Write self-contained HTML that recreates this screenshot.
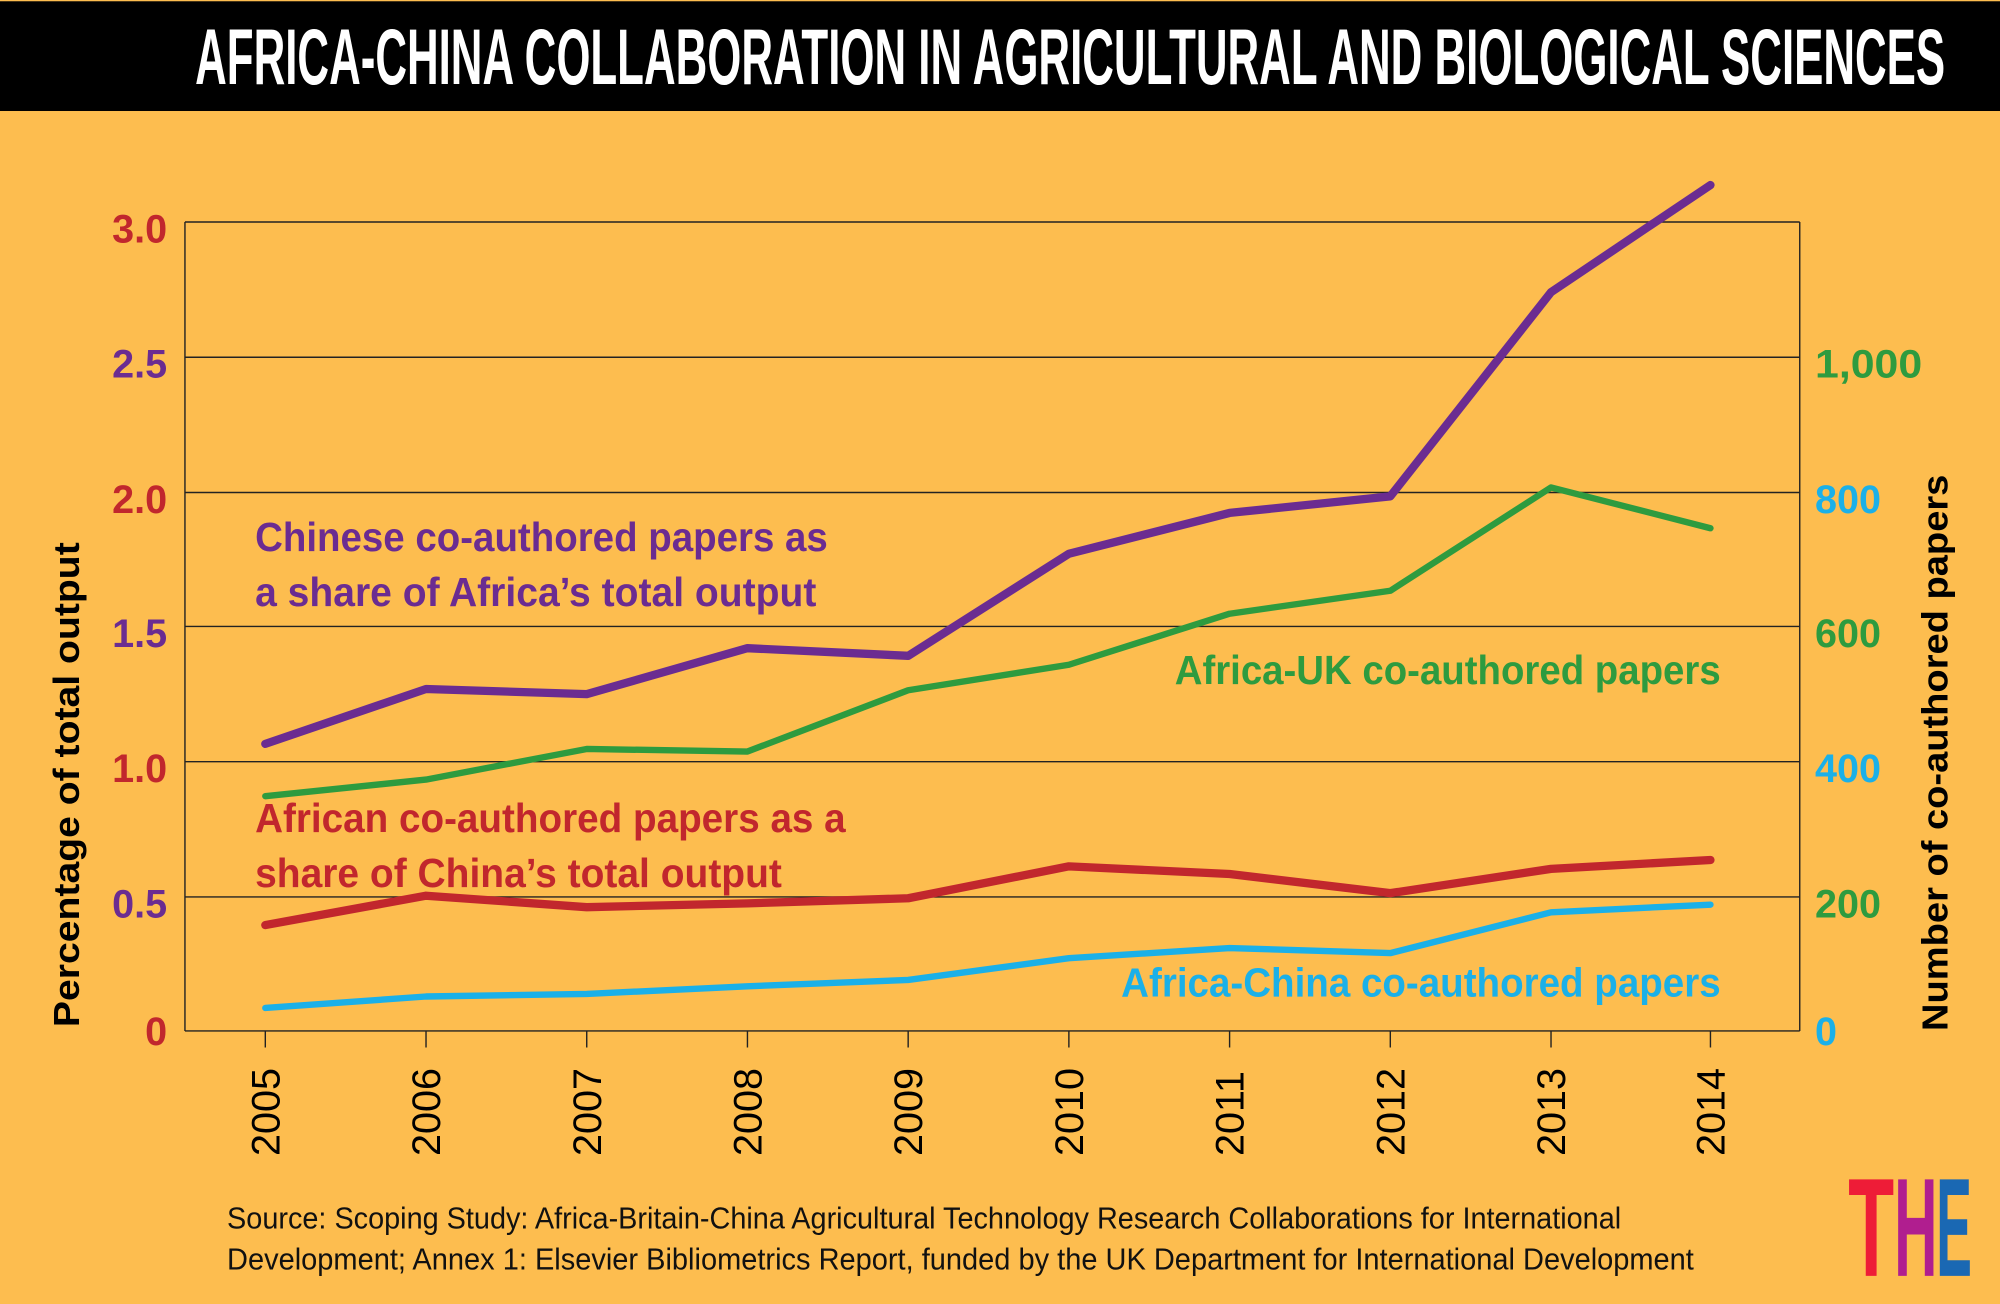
<!DOCTYPE html>
<html><head><meta charset="utf-8"><style>html,body{margin:0;padding:0;background:#FDBD4F}svg{display:block}</style></head>
<body>
<svg width="2000" height="1304" viewBox="0 0 1568 1022" preserveAspectRatio="none" xmlns="http://www.w3.org/2000/svg" font-family="Liberation Sans, sans-serif">
<rect width="1568" height="1022" fill="#FDBD4F"/>
<rect y="1" width="1568" height="86" fill="#000"/>
<text x="153" y="66" font-size="62" font-weight="bold" fill="#fff" textLength="1372" lengthAdjust="spacingAndGlyphs">AFRICA-CHINA COLLABORATION IN AGRICULTURAL AND BIOLOGICAL SCIENCES</text>
<g stroke="#222" stroke-width="1.1" fill="none">
<line x1="145" y1="174" x2="1411" y2="174"/>
<line x1="145" y1="280" x2="1411" y2="280"/>
<line x1="145" y1="386" x2="1411" y2="386"/>
<line x1="145" y1="491" x2="1411" y2="491"/>
<line x1="145" y1="597" x2="1411" y2="597"/>
<line x1="145" y1="703" x2="1411" y2="703"/>
<line x1="145" y1="808" x2="1411" y2="808"/>
<line x1="145" y1="174" x2="145" y2="808"/>
<line x1="1411" y1="174" x2="1411" y2="808"/>
<path d="M208 808v13M334 808v13M460 808v13M586 808v13M712 808v13M838 808v13M964 808v13M1090 808v13M1216 808v13M1341 808v13"/>
</g>
<g font-size="31" font-weight="bold" text-anchor="end">
<text x="131" y="190" fill="#C1272D">3.0</text>
<text x="131" y="296" fill="#6B2C91">2.5</text>
<text x="131" y="402" fill="#C1272D">2.0</text>
<text x="131" y="507" fill="#6B2C91">1.5</text>
<text x="131" y="613" fill="#C1272D">1.0</text>
<text x="131" y="719" fill="#6B2C91">0.5</text>
<text x="131" y="819" fill="#C1272D">0</text>
</g>
<g font-size="31" font-weight="bold">
<text x="1423" y="296" fill="#2E9B3F" textLength="84" lengthAdjust="spacingAndGlyphs">1,000</text>
<text x="1423" y="402" fill="#1BB0E8">800</text>
<text x="1423" y="507" fill="#2E9B3F">600</text>
<text x="1423" y="613" fill="#1BB0E8">400</text>
<text x="1423" y="719" fill="#2E9B3F">200</text>
<text x="1423" y="819" fill="#1BB0E8">0</text>
</g>
<g font-size="31" fill="#000">
<text transform="translate(219,906) rotate(-90)">2005</text>
<text transform="translate(345,906) rotate(-90)">2006</text>
<text transform="translate(471,906) rotate(-90)">2007</text>
<text transform="translate(597,906) rotate(-90)">2008</text>
<text transform="translate(723,906) rotate(-90)">2009</text>
<text transform="translate(849,906) rotate(-90)">2010</text>
<text transform="translate(975,906) rotate(-90)">2011</text>
<text transform="translate(1101,906) rotate(-90)">2012</text>
<text transform="translate(1227,906) rotate(-90)">2013</text>
<text transform="translate(1352,906) rotate(-90)">2014</text>
</g>
<text transform="translate(62,805) rotate(-90)" font-size="28" font-weight="bold" textLength="380" lengthAdjust="spacingAndGlyphs">Percentage of total output</text>
<text transform="translate(1527,808) rotate(-90)" font-size="28" font-weight="bold" textLength="436" lengthAdjust="spacingAndGlyphs">Number of co-authored papers</text>
<g fill="none" stroke-linejoin="round" stroke-linecap="round">
<polyline stroke="#1BB0E8" stroke-width="5" points="208,790 334,781 460,779 586,773 712,768 838,751 964,743 1090,747 1216,715 1341,709"/>
<polyline stroke="#2E9B3F" stroke-width="5" points="208,624 334,611 460,587 586,589 712,541 838,521 964,481 1090,463 1216,382 1341,414"/>
<polyline stroke="#C1272D" stroke-width="6.5" points="208,725 334,702 460,711 586,708 712,704 838,679 964,685 1090,700 1216,681 1341,674"/>
<polyline stroke="#6B2C91" stroke-width="6.5" points="208,583 334,540 460,544 586,508 712,514 838,434 964,402 1090,389 1216,229 1341,145"/>
</g>
<g font-size="32" font-weight="bold">
<text x="200" y="432" fill="#6B2C91" textLength="449" lengthAdjust="spacingAndGlyphs">Chinese co-authored papers as</text>
<text x="200" y="475" fill="#6B2C91" textLength="440" lengthAdjust="spacingAndGlyphs">a share of Africa’s total output</text>
<text x="200" y="652" fill="#C1272D" textLength="463" lengthAdjust="spacingAndGlyphs">African co-authored papers as a</text>
<text x="200" y="695" fill="#C1272D" textLength="413" lengthAdjust="spacingAndGlyphs">share of China’s total output</text>
<text x="921" y="536" fill="#2E9B3F" textLength="428" lengthAdjust="spacingAndGlyphs">Africa-UK co-authored papers</text>
<text x="879" y="781" fill="#1BB0E8" textLength="470" lengthAdjust="spacingAndGlyphs">Africa-China co-authored papers</text>
</g>
<g font-size="24" fill="#111">
<text x="178" y="963" textLength="1093" lengthAdjust="spacingAndGlyphs">Source: Scoping Study: Africa-Britain-China Agricultural Technology Research Collaborations for International</text>
<text x="178" y="995" textLength="1150" lengthAdjust="spacingAndGlyphs">Development; Annex 1: Elsevier Bibliometrics Report, funded by the UK Department for International Development</text>
</g>
<g font-size="110" font-weight="bold">
<text x="1449" y="1000" fill="#EE1C37" textLength="36" lengthAdjust="spacingAndGlyphs">T</text>
<text x="1485" y="1000" fill="#B01E8F" textLength="34" lengthAdjust="spacingAndGlyphs">H</text>
<text x="1518" y="1000" fill="#1A68B3" textLength="28" lengthAdjust="spacingAndGlyphs">E</text>
</g>
</svg>
</body></html>
